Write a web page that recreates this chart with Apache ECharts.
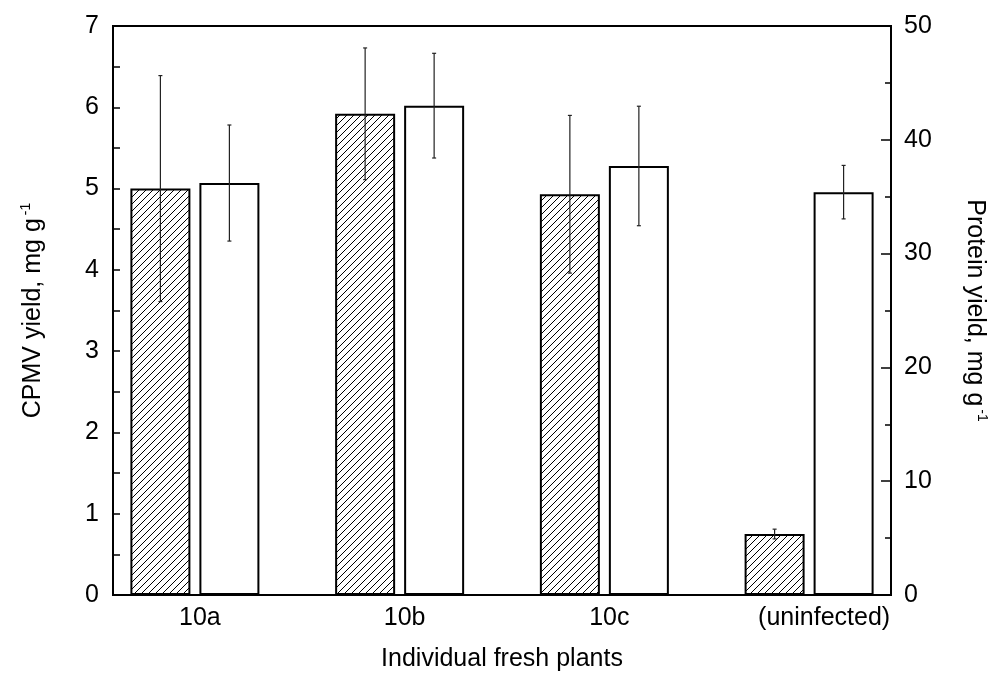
<!DOCTYPE html>
<html>
<head>
<meta charset="utf-8">
<script src="https://cdn.jsdelivr.net/npm/echarts@6/dist/echarts.min.js"></script>
<style>
  html, body { margin: 0; padding: 0; background: #fff; }
  #main { width: 1001px; height: 680px; }
</style>
</head>
<body>
<div id="main"></div>
<script>
// data
const categories = ['10a', '10b', '10c', '(uninfected)'];
const cpmvYield = [5.0, 5.92, 4.93, 0.75];     // left axis, mg/g
const cpmvErr = [1.39, 0.81, 0.97, 0.06];
const proteinYield = [36.2, 43.0, 37.7, 35.4]; // right axis, mg/g
const proteinErr = [5.1, 4.6, 5.25, 2.35];

const FONT = 'Liberation Sans, Arial, Helvetica, sans-serif';

// hatch pattern "/" for the CPMV bars
const hatch = document.createElement('canvas');
hatch.width = 7;
hatch.height = 7;
const hctx = hatch.getContext('2d');
hctx.fillStyle = '#fff';
hctx.fillRect(0, 0, 7, 7);
hctx.strokeStyle = '#000';
hctx.lineWidth = 1;
hctx.beginPath();
hctx.moveTo(-1, 8); hctx.lineTo(8, -1);
hctx.moveTo(-2, 2); hctx.lineTo(2, -2);
hctx.moveTo(5, 9); hctx.lineTo(9, 5);
hctx.stroke();

const myChart = echarts.init(document.getElementById('main'));

const pairs = (vals) => vals.map((v, i) => [i, v]);
const errData = (vals, errs) => vals.map((v, i) => [i, v - errs[i], v + errs[i]]);

const errorBars = (offset) => (params, api) => {
  const x = api.value(0);
  const top = api.coord([x, api.value(2)]);
  const bot = api.coord([x, api.value(1)]);
  const cx = top[0] + offset;
  const st = { stroke: '#222', lineWidth: 1.2 };
  return {
    type: 'group',
    children: [
      { type: 'line', shape: { x1: cx, y1: top[1], x2: cx, y2: bot[1] }, style: st },
      { type: 'line', shape: { x1: cx - 2, y1: top[1], x2: cx + 2, y2: top[1] }, style: st },
      { type: 'line', shape: { x1: cx - 2, y1: bot[1], x2: cx + 2, y2: bot[1] }, style: st },
    ],
  };
};

const axisText = { color: '#000', fontFamily: FONT, fontSize: 25 };
const supText = { color: '#000', fontFamily: FONT, fontSize: 14, padding: [0, 0, 14, 3] };
const blackLine = { onZero: false, lineStyle: { color: '#000', width: 2 } };
const tickLine = { color: '#000', width: 1.5 };

const option = {
  animation: false,
  backgroundColor: '#fff',
  grid: {
    left: 113, right: 110, top: 26, bottom: 85,
    show: true, borderColor: '#000', borderWidth: 2,
  },
  xAxis: {
    type: 'value',
    min: -0.4,
    max: 3.4,
    name: 'Individual fresh plants',
    nameLocation: 'middle',
    nameGap: 52,
    nameTextStyle: axisText,
    axisLine: blackLine,
    axisTick: { show: false },
    splitLine: { show: false },
    axisLabel: {
      ...axisText,
      margin: 11,
      padding: [0, 0, 0, 10],
      customValues: [0, 1, 2, 3],
      formatter: (v) => {
        const i = Math.round(v);
        return i === 3 ? '{u|' + categories[i] + '}' : categories[i];
      },
      rich: { u: { ...axisText, padding: [0, 0, 0, 20] } },
    },
  },
  yAxis: [
    {
      type: 'value',
      min: 0, max: 7, interval: 1,
      name: '{t|CPMV yield, mg g}{s|-1}',
      nameLocation: 'middle',
      nameRotate: 90,
      nameGap: 66,
      nameTextStyle: { rich: { t: { ...axisText }, s: supText } },
      axisLine: blackLine,
      axisTick: { inside: true, length: 7, lineStyle: tickLine },
      minorTick: { show: true, splitNumber: 2, length: 7, lineStyle: tickLine },
      splitLine: { show: false },
      axisLabel: { ...axisText, margin: 14 },
    },
    {
      type: 'value',
      min: 0, max: 50, interval: 10,
      name: '{t|Protein yield, mg g}{s|-1}',
      nameLocation: 'middle',
      nameRotate: -90,
      nameGap: 70,
      nameTextStyle: { rich: { t: { ...axisText }, s: supText } },
      axisLine: blackLine,
      axisTick: { inside: true, length: 10, lineStyle: tickLine },
      minorTick: { show: true, splitNumber: 2, length: 6, lineStyle: tickLine },
      splitLine: { show: false },
      axisLabel: { ...axisText, margin: 13 },
    },
  ],
  series: [
    {
      name: 'CPMV yield',
      type: 'bar',
      yAxisIndex: 0,
      barWidth: 60,
      barGap: '15%',
      data: pairs(cpmvYield),
      itemStyle: { color: { image: hatch, repeat: 'repeat' }, borderColor: '#000', borderWidth: 2 },
    },
    {
      name: 'Protein yield',
      type: 'bar',
      yAxisIndex: 1,
      barWidth: 60,
      barGap: '15%',
      data: pairs(proteinYield),
      itemStyle: { color: '#fff', borderColor: '#000', borderWidth: 2 },
    },
    {
      type: 'custom',
      yAxisIndex: 0,
      z: 5,
      renderItem: errorBars(-34.5),
      encode: { x: 0, y: [1, 2] },
      data: errData(cpmvYield, cpmvErr),
    },
    {
      type: 'custom',
      yAxisIndex: 1,
      z: 5,
      renderItem: errorBars(34.5),
      encode: { x: 0, y: [1, 2] },
      data: errData(proteinYield, proteinErr),
    },
  ],
};

myChart.setOption(option);
</script>
</body>
</html>
